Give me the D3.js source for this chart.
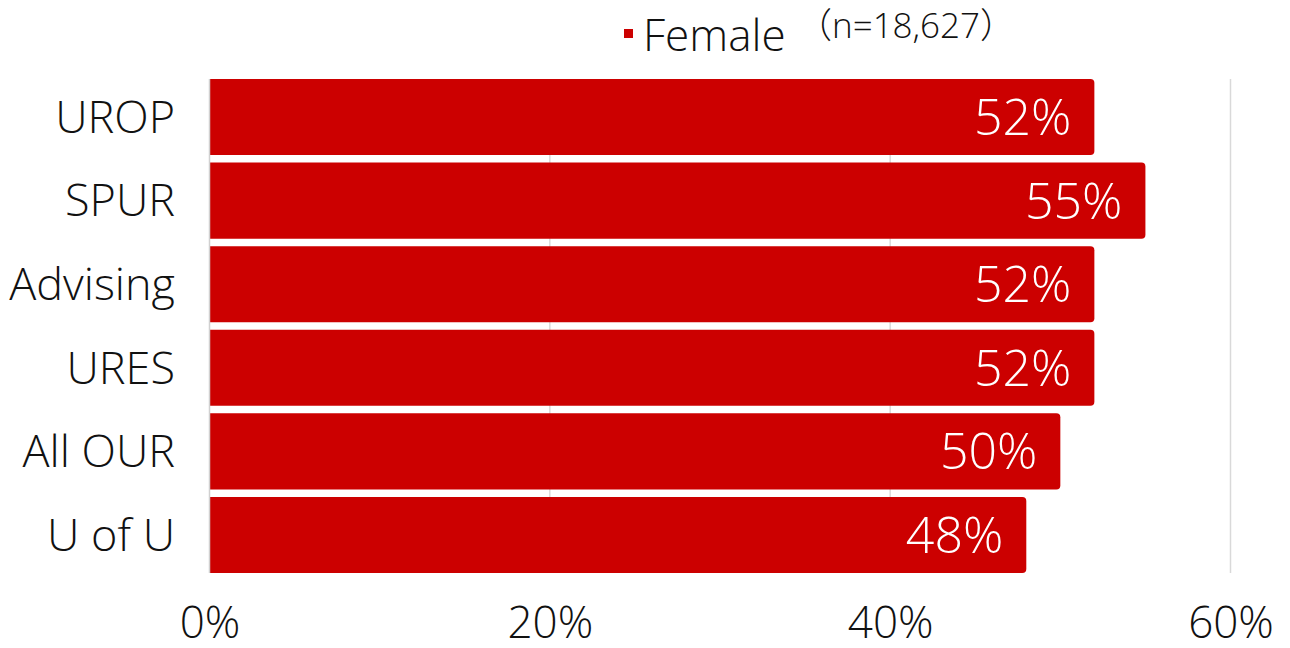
<!DOCTYPE html>
<html><head><meta charset="utf-8">
<script src="https://cdn.jsdelivr.net/npm/d3@7"></script>
<style>
html,body{margin:0;padding:0;background:#fff;}
text{font-family:"Open Sans","Noto Sans CJK SC",sans-serif;font-weight:300;}
</style></head>
<body><svg id="chart" width="1290" height="648"></svg>
<script>
const categories = ["UROP","SPUR","Advising","URES","All OUR","U of U"];
const femaleValues = [0.52,0.55,0.52,0.52,0.50,0.48];
const tickValues = [0,0.2,0.4,0.6];
const seriesName = "Female";
const sampleNote = "（n=18,627）";

const svg = d3.select("#chart");
const x = d3.scaleLinear().domain([0,0.6]).range([209.5,1230.5]);
const y = d3.scaleBand().domain(categories).range([79,573]).paddingInner(0.09).paddingOuter(0);
const fmt = d3.format(".0%");

// gridlines
svg.append("g").selectAll("line").data(tickValues.slice(1)).join("line")
  .attr("x1",d=>x(d)).attr("x2",d=>x(d)).attr("y1",79).attr("y2",573)
  .attr("stroke","#d9d9d9").attr("stroke-width",1.5);

// bars (rounded right end)
const r = 4;
svg.append("g").selectAll("path").data(categories).join("path")
  .attr("fill","#cc0000")
  .attr("d",(c,i)=>{
    const x0 = x(0), x1 = x(femaleValues[i]), y0 = y(c), h = y.bandwidth();
    return `M${x0},${y0}H${x1-r}Q${x1},${y0} ${x1},${y0+r}V${y0+h-r}Q${x1},${y0+h} ${x1-r},${y0+h}H${x0}Z`;
  });

// left axis line
svg.append("line").attr("x1",209.5).attr("x2",209.5).attr("y1",79).attr("y2",573)
  .attr("stroke","#d0d0d0").attr("stroke-width",1.5);

// value labels
svg.append("g").selectAll("text").data(categories).join("text")
  .attr("x",(c,i)=>x(femaleValues[i])-23)
  .attr("y",c=>y(c)+y.bandwidth()/2)
  .attr("dy","0.36em")
  .attr("text-anchor","end")
  .attr("fill","#fff")
  .style("font-size","50px")
  .text((c,i)=>fmt(femaleValues[i]));

// category axis
const yAxis = svg.append("g").attr("transform","translate(175,0)")
  .call(d3.axisLeft(y).tickSize(0).tickPadding(0));
yAxis.select(".domain").remove();
yAxis.selectAll("text").attr("fill","#111").attr("dy","0.35em")
  .style("font-size","45px").style("font-family",null);

// x axis
const xAxis = svg.append("g").attr("transform","translate(0,573)")
  .call(d3.axisBottom(x).tickValues(tickValues).tickFormat(fmt).tickSize(0).tickPadding(0));
xAxis.select(".domain").remove();
xAxis.selectAll("text").attr("fill","#111").attr("y",65).attr("dy",0)
  .style("font-size","44px").style("font-family",null);

// legend
const lg = svg.append("g");
lg.append("rect").attr("x",624).attr("y",29).attr("width",9).attr("height",9).attr("fill","#cc0000");
lg.append("text").attr("x",643).attr("y",51).attr("fill","#111").style("font-size","44px").text(seriesName);
lg.append("text").attr("x",797).attr("y",38).attr("fill","#111").style("font-size","35px").text(sampleNote);
</script></body></html>
